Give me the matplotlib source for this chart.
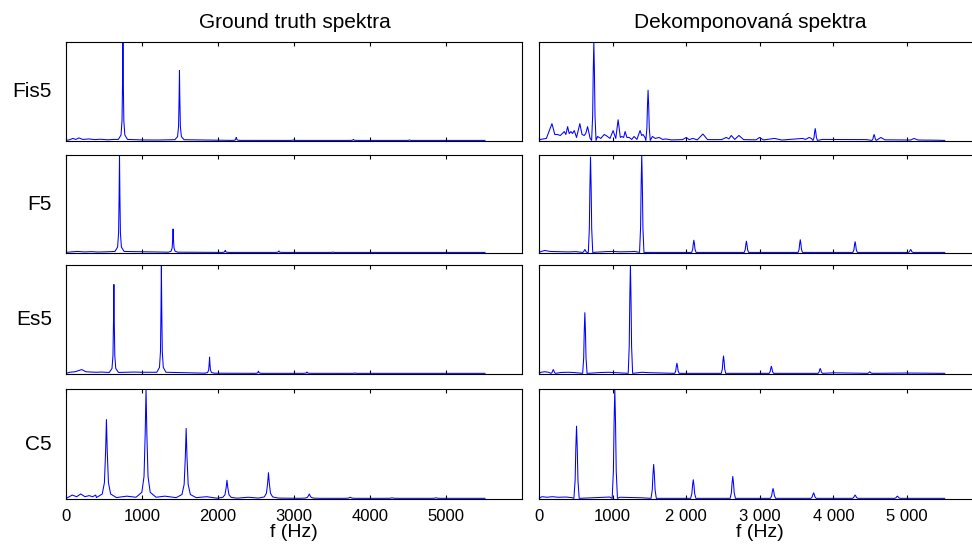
import numpy as np
import matplotlib
matplotlib.use("Agg")
import matplotlib.pyplot as plt

plt.rcParams['font.family'] = ['Liberation Sans', 'DejaVu Sans']

# spectra run from 0 Hz up to fs/8
F_MAX = 5512.5

notes = ["Fis5", "F5", "Es5", "C5"]
col_titles = ["Ground truth spektra", "Dekomponovaná spektra"]
x_ticks = [0, 1000, 2000, 3000, 4000, 5000]
gt_tick_labels = ["0", "1000", "2000", "3000", "4000", "5000"]
dec_tick_labels = ["0", "1000", "2 000", "3 000", "4 000", "5 000"]

# ---- ground truth: harmonic peaks (Hz, relative magnitude) + noise floor points
gt_fis5_peak_f = [749, 1493, 2240, 2990, 3782, 4520]
gt_fis5_peak_a = [1.0, 0.71, 0.03, 0.006, 0.01, 0.005]
gt_fis5_noise_f = [40, 90, 130, 170, 220, 300, 380, 450, 550, 620, 1000, 1200]
gt_fis5_noise_a = [0.005, 0.02, 0.01, 0.025, 0.01, 0.015, 0.008, 0.012, 0.006, 0.01, 0.005, 0.004]

gt_f5_peak_f = [704, 1409, 2095, 2800, 3510]
gt_f5_peak_a = [1.0, 0.24, 0.02, 0.015, 0.004]
gt_f5_noise_f = [60, 150, 250, 330, 420, 520]
gt_f5_noise_a = [0.005, 0.01, 0.005, 0.008, 0.004, 0.006]

gt_es5_peak_f = [630, 1255, 1889, 2532, 3170, 3800]
gt_es5_peak_a = [0.82, 1.0, 0.15, 0.02, 0.012, 0.004]
gt_es5_noise_f = [50, 120, 207, 260, 330, 400, 470, 900, 1000]
gt_es5_noise_a = [0.01, 0.015, 0.035, 0.015, 0.012, 0.01, 0.012, 0.012, 0.01]

gt_c5_peak_f = [532, 1053, 1581, 2118, 2664, 3201, 3740, 4290, 4870]
gt_c5_peak_a = [0.72, 1.0, 0.64, 0.165, 0.235, 0.04, 0.01, 0.005, 0.005]
gt_c5_noise_f = [30, 83, 140, 194, 250, 304, 350, 392, 800, 1300, 1850, 2400]
gt_c5_noise_a = [0.01, 0.03, 0.015, 0.04, 0.015, 0.025, 0.015, 0.03, 0.02, 0.02, 0.015, 0.01]

# ---- decomposed spectra
dec_fis5_peak_f = [745, 1482, 3753, 4553]
dec_fis5_peak_a = [1.0, 0.51, 0.12, 0.06]
dec_fis5_noise_f = [20, 100, 176, 215, 250, 290, 343, 365, 389, 410, 434, 455, 479, 510,
                    555, 585, 614, 635, 660, 695, 795, 840, 885, 910, 930, 965, 1007,
                    1043, 1075, 1105, 1125, 1150, 1170, 1195, 1225, 1260, 1292, 1330,
                    1373, 1395, 1414, 1440, 1541, 1580, 1631, 1680, 1722, 1800, 1950,
                    2002, 2040, 2092, 2150, 2227, 2290, 2480, 2545, 2580, 2612, 2660,
                    2716, 2780, 2950, 2995, 3050, 3198, 3300, 3582, 3620, 3672, 3700,
                    3850, 4450, 4644, 4700, 5050, 5095, 5150, 5400]
dec_fis5_noise_a = [0.01, 0.02, 0.17, 0.06, 0.06, 0.05, 0.09, 0.06, 0.14, 0.07, 0.09, 0.07,
                    0.10, 0.03, 0.17, 0.06, 0.05, 0.07, 0.14, 0.02, 0.04, 0.02, 0.06, 0.05,
                    0.04, 0.02, 0.10, 0.02, 0.21, 0.03, 0.04, 0.03, 0.09, 0.03, 0.03, 0.01,
                    0.04, 0.01, 0.10, 0.05, 0.06, 0.03, 0.04, 0.02, 0.03, 0.01, 0.015,
                    0.005, 0.008, 0.03, 0.008, 0.02, 0.005, 0.065, 0.008, 0.008, 0.03,
                    0.015, 0.05, 0.01, 0.05, 0.008, 0.006, 0.03, 0.005, 0.02, 0.004, 0.02,
                    0.01, 0.03, 0.02, 0.01, 0.008, 0.03, 0.006, 0.004, 0.02, 0.004, 0.002]

dec_f5_peak_f = [623, 700, 1396, 2104, 2818, 3550, 4295, 5050]
dec_f5_peak_a = [0.03, 0.98, 1.0, 0.125, 0.115, 0.13, 0.11, 0.03]
dec_f5_noise_f = [30, 80, 150, 250, 400, 500, 900, 1000, 1100, 1250, 1300]
dec_f5_noise_a = [0.01, 0.02, 0.01, 0.008, 0.005, 0.008, 0.008, 0.01, 0.006, 0.008, 0.01]

dec_es5_peak_f = [194, 623, 1242, 1874, 2507, 3157, 3821, 4494]
dec_es5_peak_a = [0.035, 0.56, 1.0, 0.093, 0.16, 0.065, 0.045, 0.015]
dec_es5_noise_f = [30, 80, 130, 300, 400, 500, 850, 950, 1400, 1500, 4000, 5000]
dec_es5_noise_a = [0.01, 0.015, 0.01, 0.008, 0.01, 0.006, 0.008, 0.01, 0.01, 0.006, 0.005, 0.003]

dec_c5_peak_f = [510, 1030, 1558, 2096, 2633, 3180, 3731, 4295, 4869]
dec_c5_peak_a = [0.66, 1.0, 0.31, 0.17, 0.2, 0.09, 0.05, 0.03, 0.02]
dec_c5_noise_f = [40, 110, 180, 260, 370, 450, 960, 1100, 1400]
dec_c5_noise_a = [0.015, 0.01, 0.015, 0.01, 0.012, 0.006, 0.012, 0.01, 0.005]

gt_panels = [
    (gt_fis5_peak_f, gt_fis5_peak_a, gt_fis5_noise_f, gt_fis5_noise_a, 1.0),
    (gt_f5_peak_f, gt_f5_peak_a, gt_f5_noise_f, gt_f5_noise_a, 1.0),
    (gt_es5_peak_f, gt_es5_peak_a, gt_es5_noise_f, gt_es5_noise_a, 1.0),
    (gt_c5_peak_f, gt_c5_peak_a, gt_c5_noise_f, gt_c5_noise_a, 2.2),
]
dec_panels = [
    (dec_fis5_peak_f, dec_fis5_peak_a, dec_fis5_noise_f, dec_fis5_noise_a, 1.0),
    (dec_f5_peak_f, dec_f5_peak_a, dec_f5_noise_f, dec_f5_noise_a, 1.0),
    (dec_es5_peak_f, dec_es5_peak_a, dec_es5_noise_f, dec_es5_noise_a, 1.0),
    (dec_c5_peak_f, dec_c5_peak_a, dec_c5_noise_f, dec_c5_noise_a, 1.2),
]

# line shapes of one peak: offsets (Hz) and relative height
LORENTZ_D = [-60, -25, -12, -5, 0, 5, 12, 25, 60]
LORENTZ_R = [0.01, 0.055, 0.2, 0.59, 1, 0.59, 0.2, 0.055, 0.01]
GAUSS_D = [-30, -16, -8, 0, 8, 16, 30]
GAUSS_R = [0, 0.25, 0.7, 1, 0.7, 0.25, 0]


def spectrum_line(peak_f, peak_a, noise_f, noise_a, width, shape_d, shape_r):
    xs = [0.0, F_MAX]
    ys = [0.0, 0.0]
    for f, a in zip(peak_f, peak_a):
        for d, r in zip(shape_d, shape_r):
            xs.append(f + d * width)
            ys.append(a * r)
    xs += list(noise_f)
    ys += list(noise_a)
    order = np.argsort(xs, kind="stable")
    return np.array(xs)[order], np.array(ys)[order]


fig = plt.figure(figsize=(9.72, 5.47), dpi=100)

# row extents in pixels (top, bottom)
rows_px = [(42, 141), (155, 253), (265, 374), (389, 499)]
cols_px = [(66, 456), (539, 441.6)]

for c, panels in enumerate([gt_panels, dec_panels]):
    shape_d, shape_r = (LORENTZ_D, LORENTZ_R) if c == 0 else (GAUSS_D, GAUSS_R)
    for r, (pf, pa, nf, na, w) in enumerate(panels):
        top, bot = rows_px[r]
        x0, wpx = cols_px[c]
        ax = fig.add_axes([x0 / 972, 1 - bot / 547, wpx / 972, (bot - top) / 547])
        xs, ys = spectrum_line(pf, pa, nf, na, w, shape_d, shape_r)
        ax.plot(xs, ys, color=(0, 0, 1), lw=0.75)
        ax.set_xlim(0, 6000)
        ax.set_ylim(-0.006, 1.0)
        ax.set_yticks([])
        ax.set_xticks(x_ticks)
        ax.tick_params(axis="x", direction="in", top=True, length=3, width=0.8,
                       labelsize=12, pad=7)
        for s in ax.spines.values():
            s.set_linewidth(0.8)
        if r == 3:
            ax.set_xticklabels(gt_tick_labels if c == 0 else dec_tick_labels)
            ax.set_xlabel("f (Hz)", fontsize=14, labelpad=0)
        else:
            ax.set_xticklabels([])
        if c == 0:
            fig.text(52 / 972, 1 - (top + bot) / 2 / 547, notes[r], fontsize=15,
                     ha="right", va="center")

fig.text(295 / 972, 1 - 22 / 547, col_titles[0], fontsize=15, ha="center", va="center")
fig.text(750 / 972, 1 - 22 / 547, col_titles[1], fontsize=15, ha="center", va="center")

fig.savefig("out.png", dpi=100)
